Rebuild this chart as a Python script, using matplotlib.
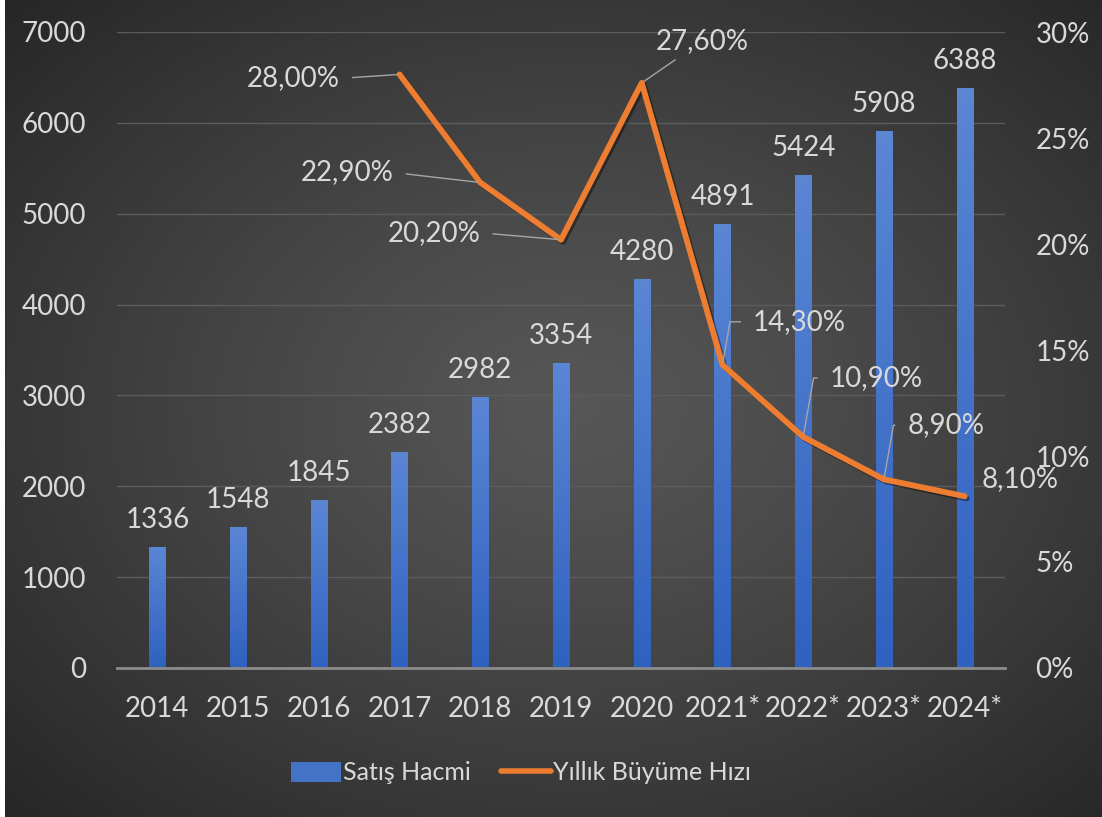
import numpy as np
import matplotlib.pyplot as plt
import matplotlib.patheffects as pe
from matplotlib.patches import Rectangle, Patch
from matplotlib.lines import Line2D
from matplotlib.colors import LinearSegmentedColormap
from matplotlib.ticker import FuncFormatter

plt.rcParams['font.family'] = ['Lato', 'DejaVu Sans']

# Veriler
years = ['2014', '2015', '2016', '2017', '2018', '2019', '2020',
         '2021*', '2022*', '2023*', '2024*']
sales = [1336, 1548, 1845, 2382, 2982, 3354, 4280, 4891, 5424, 5908, 6388]
growth_years = ['2017', '2018', '2019', '2020', '2021*', '2022*', '2023*', '2024*']
growth = [28.0, 22.9, 20.2, 27.6, 14.3, 10.9, 8.9, 8.1]

# etiket yerleri (piksel, noktaya göre) ve kılavuz çizgi tipi
label_offsets = [(-106, -4), (-133, 10), (-127, 7), (61, 42),
                 (77, 43), (73, 59), (62, 54), (55, 17)]
leader_kind = ['left', 'left', 'left', 'straight', 'angle', 'angle', 'angle', None]

TXT = '#d9d9d9'
ORANGE = '#ED7D31'
FS = 20

fig = plt.figure(figsize=(11.02, 8.17), dpi=100)

# arka plan - radyal gradyan
bg = fig.add_axes([0, 0, 1, 1], zorder=-10)
bg.axis('off')
yy, xx = np.mgrid[0:1:300j, 0:1:400j]
r = np.sqrt(((xx - 0.52) / 0.75) ** 2 + ((yy - 0.5) / 0.75) ** 2)
val = np.clip(0.34 - 0.2 * r ** 1.2, 0.12, 1)
bg.imshow(np.dstack([val, val, val]), extent=[0, 1, 0, 1], aspect='auto')
bg.set_xlim(0, 1)
bg.set_ylim(0, 1)
fig.patches.append(Rectangle((0, 0), 5 / 1102, 1, transform=fig.transFigure,
                             facecolor='white', edgecolor='none', zorder=-5))

ax = fig.add_axes([117 / 1102, 1 - 668 / 817, 888 / 1102, 636 / 817])
ax.patch.set_visible(False)
x = np.arange(len(years))
bars = ax.bar(x, sales, width=0.2, color='#4472C4', zorder=2)

# çubuklarda gradyan
bar_cmap = LinearSegmentedColormap.from_list('b', ['#2f61bf', '#5b86d4'])
grad = np.linspace(0, 1, 100).reshape(-1, 1)
for b in bars:
    x0, y0 = b.get_x(), b.get_y()
    im = ax.imshow(grad, extent=[x0, x0 + b.get_width(), y0, y0 + b.get_height()],
                   origin='lower', aspect='auto', cmap=bar_cmap, zorder=2.1)
    im.set_clip_path(b)

for xi, v in zip(x, sales):
    ax.annotate(str(v), xy=(xi, v), xytext=(0, 14), textcoords='offset pixels',
                ha='center', va='bottom', color=TXT, fontsize=FS)

ax.set_xlim(-0.5, len(years) - 0.5)
ax.set_ylim(0, 7000)
ax.set_yticks(range(0, 7001, 1000))
ax.set_xticks(x)
ax.set_xticklabels(years)
ax.yaxis.grid(True, color='#5c5c5c', lw=1)
ax.set_axisbelow(True)
for s in ['top', 'left', 'right']:
    ax.spines[s].set_visible(False)
ax.spines['bottom'].set_color('#8c8c8c')
ax.spines['bottom'].set_linewidth(2)
ax.tick_params(axis='both', length=0, colors=TXT, labelsize=FS)
ax.tick_params(axis='y', pad=22)
ax.tick_params(axis='x', pad=20)

ax2 = ax.twinx()
ax2.patch.set_visible(False)
gx = [years.index(g) for g in growth_years]
ax2.plot(gx, growth, color=ORANGE, lw=4.2, solid_capstyle='round', solid_joinstyle='round',
         zorder=3, path_effects=[pe.SimpleLineShadow(offset=(1.5, -1.5), alpha=0.4), pe.Normal()])
ax2.set_ylim(0, 30)
ax2.set_yticks(range(0, 31, 5))
ax2.yaxis.set_major_formatter(FuncFormatter(lambda v, p: f'{int(v)}%'))
for s in ax2.spines.values():
    s.set_visible(False)
ax2.tick_params(axis='y', length=0, colors=TXT, labelsize=FS, pad=22)

for i, (xi, g) in enumerate(zip(gx, growth)):
    lbl = f'{g:.2f}%'.replace('.', ',')
    dx, dy = label_offsets[i]
    kind = leader_kind[i]
    arrow = None
    if kind == 'left':
        arrow = dict(arrowstyle='-', color='#a6a6a6', lw=1, relpos=(1, 0.5),
                     shrinkA=7, shrinkB=2)
    elif kind == 'straight':
        arrow = dict(arrowstyle='-', color='#a6a6a6', lw=1, shrinkA=4, shrinkB=2)
    elif kind == 'angle':
        arrow = dict(arrowstyle='-', color='#a6a6a6', lw=1, relpos=(0, 0.5),
                     connectionstyle='angle,angleA=0,angleB=80,rad=0',
                     shrinkA=7, shrinkB=2)
    ax2.annotate(lbl, xy=(xi, g), xytext=(dx, dy), textcoords='offset pixels',
                 ha='center', va='center', color=TXT, fontsize=FS,
                 arrowprops=arrow, zorder=4)

handles = [Patch(facecolor='#4472C4', edgecolor='none'),
           Line2D([0], [0], color=ORANGE, lw=4, solid_capstyle='round')]
fig.legend(handles, ['Satış Hacmi', 'Yıllık Büyüme Hızı'], loc='center',
           bbox_to_anchor=(521 / 1102, 1 - 773 / 817), ncol=2, frameon=False,
           fontsize=18, labelcolor=TXT, handlelength=2.0, handleheight=0.85,
           handletextpad=0.1, columnspacing=1.2)

fig.savefig('out.png', dpi=100)
